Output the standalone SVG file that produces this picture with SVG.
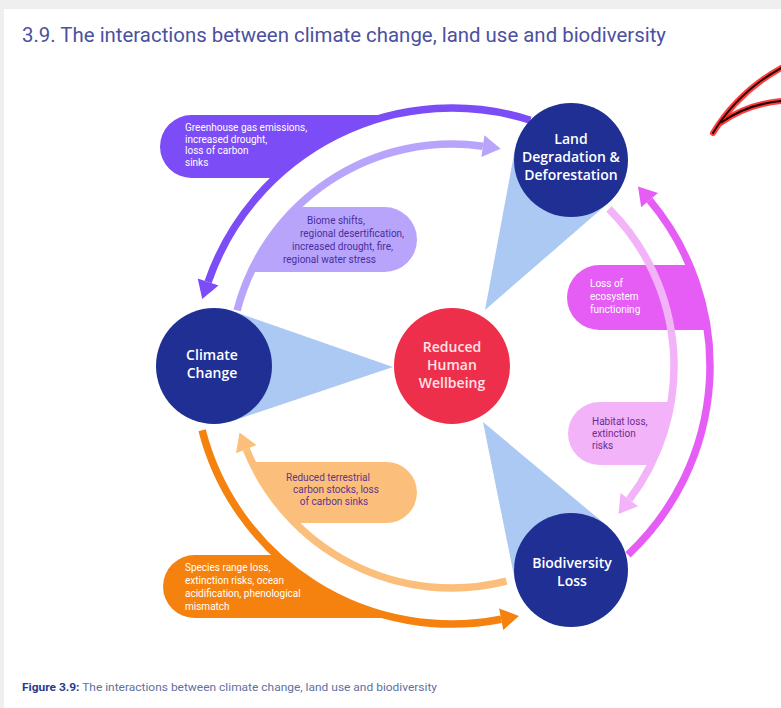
<svg xmlns="http://www.w3.org/2000/svg" width="781" height="708" viewBox="0 0 781 708">
<defs>
<style>
.bg{fill:#efefef}
.panel{fill:#ffffff}
.title{font-family:Roboto,"Liberation Sans",sans-serif;font-size:20px;fill:#4b519e}
.node{fill:#1f2f94}
.nodeRed{fill:#ee2f4b}
.nlab{font-family:"Open Sans","Liberation Sans",sans-serif;font-weight:600;font-size:14px;fill:#ffffff;text-anchor:middle}
.nlabR{font-family:"Open Sans","Liberation Sans",sans-serif;font-weight:600;font-size:14px;fill:#ffe3e6;text-anchor:middle}
.cone{fill:#abc9f3}
.arc{fill:none;stroke-width:7.5}
.lab{font-family:Roboto,"Liberation Sans",sans-serif;font-size:10px}
.cap{font-family:Roboto,"Liberation Sans",sans-serif;font-size:11px;fill:#6170a0}
</style>
</defs>
<rect class="bg" x="0" y="0" width="781" height="708"/>
<rect class="panel" x="4" y="9" width="777" height="699"/>
<text class="title" x="22" y="42" textLength="644" lengthAdjust="spacingAndGlyphs">3.9. The interactions between climate change, land use and biodiversity</text>

<g id="cones">
<polygon class="cone" points="393,367 233.1,311.3 214,366 232.5,421"/>
<polygon class="cone" points="485,310 514.9,149.6 571,160 608.3,203"/>
<polygon class="cone" points="483,422 607.6,526.3 571,570 515.1,581.3"/>
</g>

<g id="connectors">
<!-- dark purple: Land -> Climate -->
<path d="M 392 115 A 258 258 0 0 0 275.3 178 H 191.5 A 31.5 31.5 0 0 1 191.5 115 Z" fill="#7c4cf6"/>
<path class="arc" stroke="#7c4cf6" d="M 530.4 120.2 A 258 258 0 0 0 208.1 282"/>
<polygon fill="#7c4cf6" points="202.2,299 197.7,278.4 218.5,285.6"/>
<text class="lab" fill="#ffffff" font-size="12"><tspan x="185" y="131">Greenhouse gas emissions,</tspan><tspan x="185" y="142.5">increased drought,</tspan><tspan x="185" y="154">loss of carbon</tspan><tspan x="185" y="166">sinks</tspan></text>

<!-- light purple: Climate -> Land -->
<path d="M 297 207 H 384.5 A 32.5 32.5 0 0 1 384.5 272 H 250.9 A 222 222 0 0 1 297 207 Z" fill="#b8a5fb"/>
<path class="arc" stroke="#b8a5fb" d="M 237.1 310.4 A 222 222 0 0 1 482.9 146.2"/>
<polygon fill="#b8a5fb" points="500.7,148.7 484.4,135.3 481.4,157.1"/>
<text class="lab" fill="#4a2d9c" font-size="9.8"><tspan x="307" y="224">Biome shifts,</tspan><tspan x="300" y="237">regional desertification,</tspan><tspan x="292" y="250">increased drought, fire,</tspan><tspan x="283" y="263">regional water stress</tspan></text>

<!-- magenta: Biodiversity -> Land -->
<path d="M 599.5 265 H 689.4 A 258 258 0 0 1 707.5 330 H 599.5 A 32.5 32.5 0 0 1 599.5 265 Z" fill="#e65df5"/>
<path class="arc" stroke="#e65df5" d="M 628 554.7 A 258 258 0 0 0 649.6 200.2"/>
<polygon fill="#e65df5" points="638,186.4 658,193.1 641.2,207.3"/>
<text class="lab" fill="#ffffff" font-size="10.3"><tspan x="590" y="287">Loss of</tspan><tspan x="590" y="300">ecosystem</tspan><tspan x="590" y="313">functioning</tspan></text>

<!-- pink: Land -> Biodiversity -->
<path d="M 599.5 402 H 671.1 A 222 222 0 0 1 650.7 465 H 599.5 A 31.5 31.5 0 0 1 599.5 402 Z" fill="#f3b3f9"/>
<path class="arc" stroke="#f3b3f9" d="M 609 209 A 222 222 0 0 1 629.3 499.6"/>
<polygon fill="#f3b3f9" points="618.5,514 638.1,506.2 620.5,493"/>
<text class="lab" fill="#6b2d8f" font-size="10"><tspan x="592" y="425">Habitat loss,</tspan><tspan x="592" y="437">extinction</tspan><tspan x="592" y="449">risks</tspan></text>

<!-- orange: Climate -> Biodiversity -->
<path d="M 194.5 555 H 276.4 A 258 258 0 0 0 396.7 618 H 194.5 A 31.5 31.5 0 0 1 194.5 555 Z" fill="#f5820f"/>
<path class="arc" stroke="#f5820f" d="M 202.1 430.2 A 258 258 0 0 0 501.2 619.3"/>
<polygon fill="#f5820f" points="518.9,615.9 503.3,630.1 499.1,608.5"/>
<text class="lab" fill="#ffffff" font-size="10.8"><tspan x="185" y="571">Species range loss,</tspan><tspan x="185" y="584">extinction risks, ocean</tspan><tspan x="185" y="596.5">acidification, phenological</tspan><tspan x="185" y="609.5">mismatch</tspan></text>

<!-- light orange: Biodiversity -> Climate -->
<path d="M 251.8 462 H 386.5 A 30.5 30.5 0 0 1 386.5 523 H 295 A 222 222 0 0 1 251.8 462 Z" fill="#fbbf7b"/>
<path class="arc" stroke="#fbbf7b" d="M 506.5 581.2 A 222 222 0 0 1 246.2 449.2"/>
<polygon fill="#fbbf7b" points="239.5,432.5 236,453.3 256.4,445.1"/>
<text class="lab" fill="#5c3590" text-anchor="middle" font-size="10.3"><tspan x="328" y="481">Reduced terrestrial</tspan><tspan x="336" y="493">carbon stocks, loss</tspan><tspan x="334" y="505">of carbon sinks</tspan></text>
</g>

<g id="node-land">
<circle class="node" cx="571" cy="160" r="57"/>
<text class="nlab"><tspan x="571" y="144">Land</tspan><tspan x="571" y="162">Degradation &amp;</tspan><tspan x="571" y="180">Deforestation</tspan></text>
</g>
<g id="node-climate">
<circle class="node" cx="214" cy="366" r="58"/>
<text class="nlab"><tspan x="212" y="360">Climate</tspan><tspan x="212" y="378">Change</tspan></text>
</g>
<g id="node-wellbeing">
<circle class="nodeRed" cx="452" cy="366" r="58"/>
<text class="nlabR"><tspan x="452" y="352">Reduced</tspan><tspan x="452" y="370">Human</tspan><tspan x="452" y="388">Wellbeing</tspan></text>
</g>
<g id="node-biodiversity">
<circle class="node" cx="571" cy="570" r="57"/>
<text class="nlab"><tspan x="572" y="568">Biodiversity</tspan><tspan x="572" y="586">Loss</tspan></text>
</g>

<g id="pen-mark" fill="none" stroke-linecap="round">
<path d="M 713 133 Q 738 92 781 68" stroke="#ff1a1a" stroke-width="6" opacity="0.85"/>
<path d="M 722 122 Q 748 104 781 101" stroke="#ff1a1a" stroke-width="6" opacity="0.85"/>
<path d="M 713 133 Q 738 92 781 68" stroke="#200000" stroke-width="2"/>
<path d="M 722 122 Q 748 104 781 101" stroke="#200000" stroke-width="2"/>
</g>

<text class="cap" x="22" y="691" textLength="415" lengthAdjust="spacingAndGlyphs"><tspan font-weight="bold" fill="#2b3a8c">Figure 3.9:</tspan> The interactions between climate change, land use and biodiversity</text>
</svg>
